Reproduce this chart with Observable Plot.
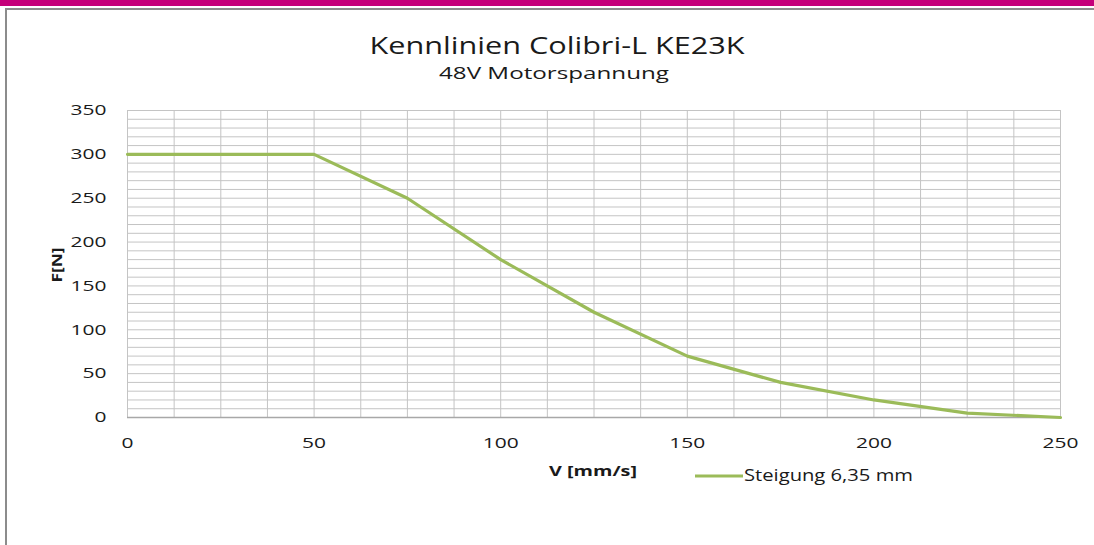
<!DOCTYPE html>
<html><head><meta charset="utf-8">
<script src="https://cdn.jsdelivr.net/npm/d3@7"></script>
<script src="https://cdn.jsdelivr.net/npm/@observablehq/plot@0.6"></script>
<style>
html,body{margin:0;padding:0;background:#fff;width:1094px;height:545px;overflow:hidden;font-family:"Open Sans",sans-serif;}
#wrap{position:relative;width:1094px;height:545px;}
#bar{position:absolute;left:0;top:0;width:1094px;height:6px;background:#c5007a;}
#frame{position:absolute;left:5px;top:8px;width:1100px;height:600px;border-left:2px solid #8c8c8c;border-top:2px solid #8c8c8c;}
#chart{position:absolute;left:0;top:0;}
</style></head>
<body><div id="wrap">
<div id="bar"></div><div id="frame"></div>
<div id="chart"></div>
</div>
<script>
const speeds = [0, 50, 75, 100, 125, 150, 175, 200, 225, 250];
const forces = [300, 300, 250, 180, 120, 70, 40, 20, 5, 0];
const seriesName = "Steigung 6,35 mm";
const title = "Kennlinien Colibri-L KE23K";
const subtitle = "48V Motorspannung";
const xTicks = [0, 50, 100, 150, 200, 250];
const yTicks = [0, 50, 100, 150, 200, 250, 300, 350];
const xGrid = d3.range(0, 250.01, 12.5);
const yGrid = d3.range(0, 350.01, 10);
const xLabel = "V [mm/s]";
const yLabel = "F[N]";

const data = speeds.map((v, i) => ({v, f: forces[i]}));
const FONT = "Open Sans, Noto Sans, sans-serif";
const ink = "#1a1a1a";

const chart = Plot.plot({
  width: 1094, height: 545,
  marginLeft: 127, marginRight: 34, marginTop: 110, marginBottom: 128,
  style: {fontFamily: FONT, fontSize: "15px", color: ink, background: "transparent"},
  x: {domain: [0, 250]},
  y: {domain: [0, 350]},
  marks: [
    Plot.ruleY(yGrid, {stroke: "#c4c4c4", strokeWidth: 1}),
    Plot.ruleX(xGrid, {stroke: "#c4c4c4", strokeWidth: 1}),
    Plot.ruleY([0], {stroke: "#a8a8a8", strokeWidth: 1.5}),
    Plot.axisX({ticks: xTicks, tickSize: 0, tickPadding: 20, fontSize: 15, label: null}),
    Plot.axisY({ticks: yTicks, tickSize: 0, tickPadding: 21, fontSize: 15, label: null}),
    Plot.line(data, {x: "v", y: "f", stroke: "#9bbb59", strokeWidth: 3.2})
  ]
});
document.getElementById("chart").appendChild(chart);

const svg = d3.select(chart);
// stretch tick labels horizontally like the reference
let k = 1;
svg.selectAll("text").each(function() {
  if (this.textContent === "350") k = 36 / this.getComputedTextLength();
});
svg.selectAll("text").each(function() {
  const w = this.getComputedTextLength();
  this.setAttribute("textLength", w * k);
  this.setAttribute("lengthAdjust", "spacingAndGlyphs");
});

function addText(str, x, y, size, target, opts = {}) {
  const t = svg.append("text")
    .attr("x", x).attr("y", y)
    .attr("font-family", FONT).attr("font-size", size)
    .attr("fill", ink)
    .attr("text-anchor", opts.anchor || "middle")
    .attr("font-weight", opts.bold ? "bold" : null)
    .text(str);
  if (opts.rotate) t.attr("transform", `rotate(${opts.rotate},${x},${y})`);
  t.attr("textLength", target).attr("lengthAdjust", "spacingAndGlyphs");
  return t;
}
addText(title, 557, 54, 23.5, 375);
addText(subtitle, 554, 79, 17, 230);
addText(xLabel, 593, 476, 15, 88, {bold: true});
addText(yLabel, 62, 265, 15, 35, {bold: true, rotate: -90});
// legend
svg.append("line").attr("x1", 695).attr("x2", 743).attr("y1", 476).attr("y2", 476)
  .attr("stroke", "#9bbb59").attr("stroke-width", 3.2);
addText(seriesName, 744, 481, 16, 169, {anchor: "start"});
</script>
</body></html>
